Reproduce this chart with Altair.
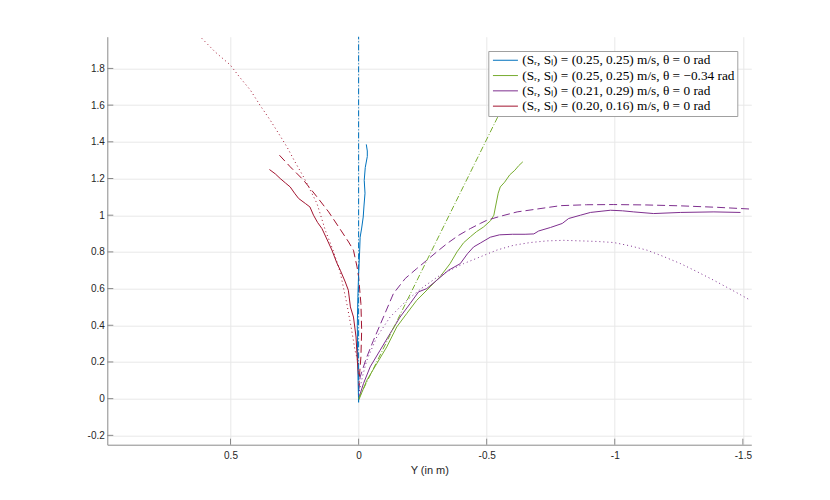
import altair as alt
import pandas as pd

# ---------------- data ----------------
labels = [
    "(Sᵣ, Sₗ) = (0.25, 0.25) m/s, θ = 0 rad",
    "(Sᵣ, Sₗ) = (0.25, 0.25) m/s, θ = −0.34 rad",
    "(Sᵣ, Sₗ) = (0.21, 0.29) m/s, θ = 0 rad",
    "(Sᵣ, Sₗ) = (0.20, 0.16) m/s, θ = 0 rad",
]
colors = ["#0072BD", "#77AC30", "#7E2F8E", "#A2142F"]

x_ticks = [0.5, 0, -0.5, -1, -1.5]
y_ticks = [-0.2, 0, 0.2, 0.4, 0.6, 0.8, 1, 1.2, 1.4, 1.6, 1.8]

# blue
blue_solid_x = [0.000, 0.002, 0.004, 0.005, 0.003, 0.000, -0.004, -0.006, -0.012, -0.018, -0.021,
                -0.025, -0.022, -0.026, -0.034, -0.034, -0.030]
blue_solid_y = [-0.02, 0.10, 0.25, 0.40, 0.55, 0.68, 0.80, 0.88, 0.93, 0.99, 1.05,
                1.12, 1.19, 1.26, 1.32, 1.35, 1.386]
blue_dashdot_x = [0.0, 0.0]
blue_dashdot_y = [-0.02, 1.98]

# green
green_solid_x = [0.0, -0.032, -0.071, -0.110, -0.149, -0.188, -0.227, -0.279, -0.318, -0.357, -0.384,
                 -0.410, -0.436, -0.460, -0.488, -0.515, -0.528, -0.535, -0.545, -0.553, -0.570,
                 -0.590, -0.610, -0.625, -0.641]
green_solid_y = [-0.01, 0.10, 0.191, 0.282, 0.391, 0.464, 0.536, 0.609, 0.664, 0.736, 0.80,
                 0.85, 0.882, 0.91, 0.936, 0.97, 1.00, 1.05, 1.12, 1.154, 1.18,
                 1.22, 1.245, 1.27, 1.291]
green_dashdot_x = [0.0, -0.619]
green_dashdot_y = [0.0, 1.75]

# purple
purple_solid_x = [0.0, -0.019, -0.045, -0.084, -0.123, -0.162, -0.201, -0.234, -0.266, -0.305, -0.351,
                  -0.397, -0.425, -0.449, -0.475, -0.514, -0.550, -0.600, -0.650, -0.684, -0.703,
                  -0.749, -0.795, -0.820, -0.866, -0.905, -0.950, -0.983, -1.030, -1.074, -1.152,
                  -1.257, -1.387, -1.491]
purple_solid_y = [0.0, 0.082, 0.173, 0.264, 0.355, 0.445, 0.518, 0.582, 0.600, 0.645, 0.700,
                  0.736, 0.790, 0.827, 0.848, 0.880, 0.893, 0.896, 0.896, 0.898, 0.914,
                  0.933, 0.955, 0.982, 1.000, 1.015, 1.022, 1.027, 1.024, 1.018, 1.009,
                  1.015, 1.018, 1.015]
purple_dashed_x = [0.0, -0.006, -0.030, -0.058, -0.097, -0.136, -0.182, -0.227, -0.266, -0.305,
                   -0.345, -0.390, -0.436, -0.475, -0.500, -0.553, -0.619, -0.684, -0.788, -0.890,
                   -0.996, -1.120, -1.257, -1.400, -1.537]
purple_dashed_y = [0.04, 0.118, 0.220, 0.318, 0.445, 0.573, 0.655, 0.709, 0.754, 0.800,
                   0.845, 0.890, 0.927, 0.955, 0.972, 0.994, 1.018, 1.031, 1.052, 1.057,
                   1.058, 1.056, 1.051, 1.043, 1.033]
purple_dotted_x = [0.0, -0.015, -0.032, -0.071, -0.123, -0.188, -0.253, -0.318, -0.410, -0.475,
                   -0.540, -0.605, -0.670, -0.736, -0.800, -0.866, -0.930, -0.996, -1.060, -1.127,
                   -1.190, -1.257, -1.320, -1.387, -1.460, -1.530]
purple_dotted_y = [0.02, 0.12, 0.209, 0.336, 0.445, 0.536, 0.609, 0.673, 0.736, 0.773,
                   0.810, 0.836, 0.851, 0.860, 0.863, 0.860, 0.857, 0.851, 0.833, 0.809,
                   0.775, 0.736, 0.693, 0.645, 0.590, 0.536]

# red
red_solid_x = [0.348, 0.325, 0.306, 0.285, 0.267, 0.250, 0.234, 0.208, 0.190, 0.176, 0.160, 0.143,
               0.124, 0.104, 0.085, 0.0715, 0.052, 0.040, 0.032, 0.020, 0.010, 0.005, 0.0]
red_solid_y = [1.249, 1.225, 1.200, 1.175, 1.154, 1.120, 1.091, 1.064, 1.045, 1.000, 0.960, 0.927,
               0.870, 0.809, 0.740, 0.700, 0.636, 0.591, 0.500, 0.445, 0.336, 0.209, 0.12]
red_dashed_x = [0.309, 0.267, 0.215, 0.1625, 0.117, 0.075, 0.039, 0.020, 0.006, 0.0, -0.009,
                -0.012, -0.009, -0.003, 0.0]
red_dashed_y = [1.327, 1.264, 1.191, 1.100, 1.018, 0.930, 0.854, 0.809, 0.718, 0.664, 0.518,
                0.373, 0.227, 0.118, 0.05]
red_dotted_x = [0.612, 0.560, 0.501, 0.463, 0.423, 0.385, 0.345, 0.312, 0.280, 0.248, 0.215, 0.190,
                0.1625, 0.130, 0.100, 0.078, 0.068, 0.046, 0.027, 0.014, 0.004, 0.0]
red_dotted_y = [1.964, 1.890, 1.819, 1.750, 1.683, 1.600, 1.518, 1.445, 1.373, 1.290, 1.209, 1.140,
                1.064, 0.918, 0.810, 0.718, 0.664, 0.518, 0.373, 0.264, 0.210, 0.19]

curves = [
    (0, "solid", blue_solid_x, blue_solid_y),
    (0, "dashdot", blue_dashdot_x, blue_dashdot_y),
    (1, "solid", green_solid_x, green_solid_y),
    (1, "dashdot", green_dashdot_x, green_dashdot_y),
    (2, "solid", purple_solid_x, purple_solid_y),
    (2, "dashed", purple_dashed_x, purple_dashed_y),
    (2, "dotted", purple_dotted_x, purple_dotted_y),
    (3, "solid", red_solid_x, red_solid_y),
    (3, "dashed", red_dashed_x, red_dashed_y),
    (3, "dotted", red_dotted_x, red_dotted_y),
]

rows = []
for cid, (si, style, xs, ys) in enumerate(curves):
    for i, (xv, yv) in enumerate(zip(xs, ys)):
        rows.append({"x": xv, "y": yv, "series": labels[si], "style": style,
                     "curve": cid, "order": i})
df = pd.DataFrame(rows)

W, H = 644, 408
axis_color = "#8a8a8a"

xscale = alt.Scale(domain=[-1.533, 0.981], reverse=True, nice=False, zero=False)
yscale = alt.Scale(domain=[-0.251, 1.973], nice=False, zero=False)
cscale = alt.Scale(domain=labels, range=colors)

xaxis = alt.Axis(values=x_ticks, labelExpr="datum.value + ''", ticks=False, grid=True,
                 gridColor="#e8e8e8", domainColor=axis_color, labelColor="#262626",
                 labelFont="Liberation Sans", labelFontSize=10, labelPadding=6,
                 title="Y (in m)", titleFont="Liberation Sans", titleFontSize=11,
                 titleFontWeight="normal", titleColor="#262626", titlePadding=4)
yaxis = alt.Axis(values=y_ticks, labelExpr="datum.value + ''", ticks=False, grid=True,
                 gridColor="#e8e8e8", domainColor=axis_color, labelColor="#262626",
                 labelFont="Liberation Sans", labelFontSize=10, labelPadding=3, title=None)

legend = alt.Legend(
    orient="none", legendX=381, legendY=14.3, title=None,
    symbolType="M-1,0L4,0", symbolSize=100, symbolStrokeWidth=1,
    symbolOffset=0.4, labelOffset=17.6,
    labelFont="Liberation Serif", labelFontSize=13.3, labelColor="#000000", labelLimit=0,
    strokeColor="#a0a0a0", fillColor="white", padding=2.6, rowPadding=1.3, zindex=1,
)

dashes = {"solid": [1, 0], "dashed": [8, 4], "dotted": [1, 3], "dashdot": [6, 2, 1, 2]}

layers = []
for style in ["solid", "dashed", "dotted", "dashdot"]:
    enc = dict(
        x=alt.X("x:Q", scale=xscale, axis=xaxis),
        y=alt.Y("y:Q", scale=yscale, axis=yaxis),
        color=alt.Color("series:N", scale=cscale, legend=legend if style == "solid" else None),
        detail="curve:N",
        order="order:Q",
    )
    mk = {"strokeWidth": 1, "clip": True}
    if style != "solid":
        mk["strokeDash"] = dashes[style]
    layers.append(
        alt.Chart(df).transform_filter(alt.datum.style == style).mark_line(**mk).encode(**enc)
    )

xt_df = pd.DataFrame({"v": x_ticks})
yt_df = pd.DataFrame({"v": y_ticks})
xtick_layer = alt.Chart(xt_df).mark_rule(color=axis_color, strokeWidth=1).encode(
    x=alt.X("v:Q", scale=xscale, axis=xaxis), y=alt.value(H), y2=alt.value(H - 6))
ytick_layer = alt.Chart(yt_df).mark_rule(color=axis_color, strokeWidth=1).encode(
    y=alt.Y("v:Q", scale=yscale, axis=yaxis), x=alt.value(0), x2=alt.value(6))

chart = alt.layer(*layers, xtick_layer, ytick_layer).properties(
    width=W, height=H,
    autosize=alt.AutoSizeParams(type="none"),
    padding={"left": 99.3, "top": 28.7, "right": 70.7, "bottom": 47.3},
    background="white",
).configure_view(strokeWidth=0)

chart.save("out.html", embed_options={"renderer": "svg", "actions": False})
